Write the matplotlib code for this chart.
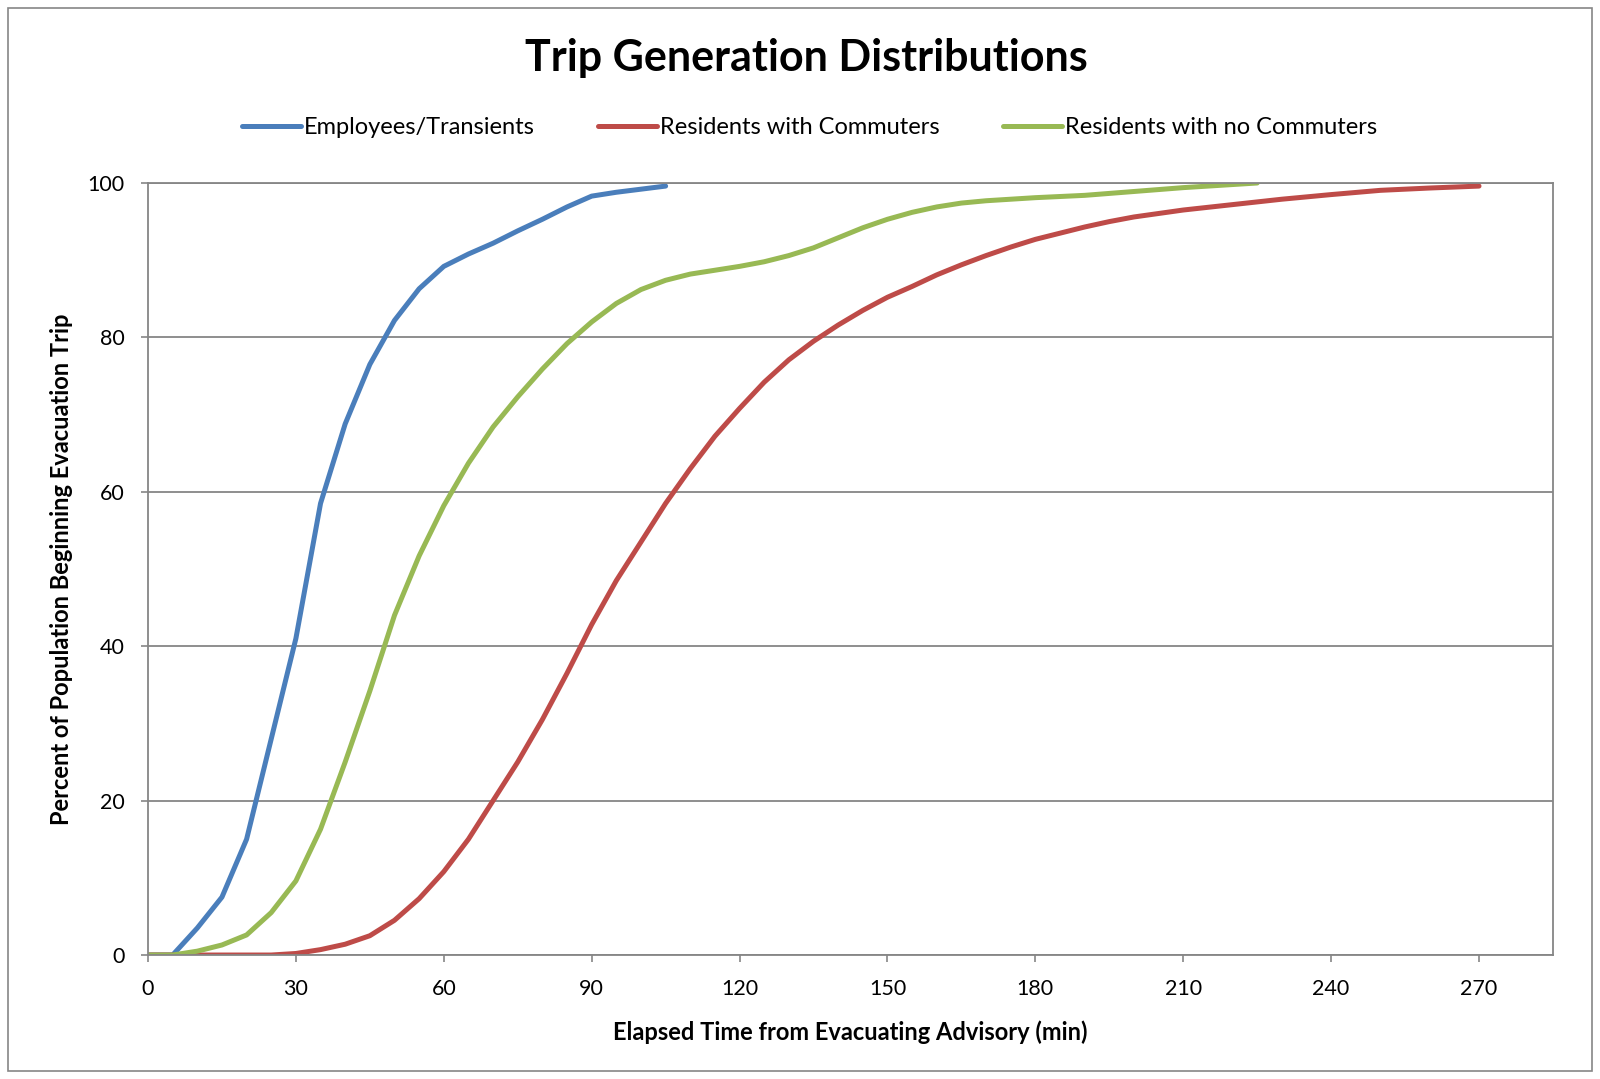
import matplotlib.pyplot as plt
from matplotlib.patches import Rectangle

# Elapsed time (min) and cumulative percent
emp_t = [0, 5, 10, 15, 20, 25, 30, 35, 40, 45, 50, 55, 60, 65, 70, 75, 80, 85, 90, 95, 100, 105]
emp_pct = [0, 0, 3.5, 7.5, 15, 28, 41, 58.5, 68.8, 76.5, 82.2, 86.3, 89.2, 90.8, 92.2, 93.8,
           95.3, 96.9, 98.3, 98.8, 99.2, 99.6]

res_t = [0, 5, 10, 15, 20, 25, 30, 35, 40, 45, 50, 55, 60, 65, 70, 75, 80, 85, 90, 95, 100,
         105, 110, 115, 120, 125, 130, 135, 140, 145, 150, 155, 160, 165, 170, 175, 180, 185,
         190, 195, 200, 210, 220, 230, 240, 250, 260, 270]
res_pct = [0, 0, 0, 0, 0, 0, 0.2, 0.7, 1.4, 2.5, 4.5, 7.3, 10.8, 15, 20, 25, 30.5, 36.5, 42.8,
           48.5, 53.5, 58.5, 63, 67.2, 70.8, 74.2, 77.1, 79.5, 81.6, 83.5, 85.2, 86.6, 88.1,
           89.4, 90.6, 91.7, 92.7, 93.5, 94.3, 95, 95.6, 96.5, 97.2, 97.9, 98.5, 99.05, 99.35,
           99.6]

nocom_t = [0, 5, 10, 15, 20, 25, 30, 35, 40, 45, 50, 55, 60, 65, 70, 75, 80, 85, 90, 95,
           100, 105, 110, 115, 120, 125, 130, 135, 140, 145, 150, 155, 160, 165, 170, 175,
           180, 190, 200, 210, 220, 225]
nocom_pct = [0, 0, 0.5, 1.3, 2.6, 5.5, 9.6, 16.3, 25, 34.2, 44, 51.7, 58.2, 63.7, 68.4, 72.3,
             75.9, 79.2, 82, 84.4, 86.2, 87.4, 88.2, 88.7, 89.2, 89.8, 90.6, 91.6, 92.9, 94.2,
             95.3, 96.2, 96.9, 97.4, 97.7, 97.9, 98.1, 98.4, 98.9, 99.4, 99.8, 100]

labels = ["Employees/Transients", "Residents with Commuters", "Residents with no Commuters"]
colors = ["#4A7EBB", "#BE4B48", "#98B954"]

plt.rcParams['font.family'] = ['Lato', 'DejaVu Sans']

fig = plt.figure(figsize=(16, 10.79), dpi=100)
ax = fig.add_axes([0.0925, 0.1149, 0.8781, 0.7155])

for t, p, lab, c in zip([emp_t, res_t, nocom_t], [emp_pct, res_pct, nocom_pct], labels, colors):
    ax.plot(t, p, color=c, linewidth=3.6, label=lab, solid_capstyle='round',
            solid_joinstyle='round')

ax.set_xlim(0, 285)
ax.set_ylim(0, 100)
ax.set_xticks(range(0, 271, 30))
ax.set_yticks(range(0, 101, 20))
ax.yaxis.grid(True, color="#868686", linewidth=1.3)
ax.set_axisbelow(True)
for s in ax.spines.values():
    s.set_color("#868686")
    s.set_linewidth(1.3)
ax.tick_params(axis='both', colors="#868686", labelcolor="black", labelsize=15.5,
               length=5, width=1.2)
ax.tick_params(axis='x', pad=12)
ax.tick_params(axis='y', pad=12)

ax.set_xlabel("Elapsed Time from Evacuating Advisory (min)", fontsize=17,
              fontweight='bold', labelpad=16)
ax.set_ylabel("Percent of Population Beginning Evacuation Trip", fontsize=17,
              fontweight='bold', labelpad=10)

fig.text(0.504, 0.946, "Trip Generation Distributions", ha='center', va='center',
         fontsize=31, fontweight='bold')

fig.legend(loc='center', bbox_to_anchor=(0.506, 0.882), ncol=3, frameon=False,
           fontsize=17, handlelength=2.5, handletextpad=0.1, columnspacing=2.7)

# chart area border
fig.patches.append(Rectangle((0.005, 0.007), 0.99, 0.986, transform=fig.transFigure,
                             fill=False, edgecolor="#868686", linewidth=1.2))

fig.savefig("out.png", dpi=100)
